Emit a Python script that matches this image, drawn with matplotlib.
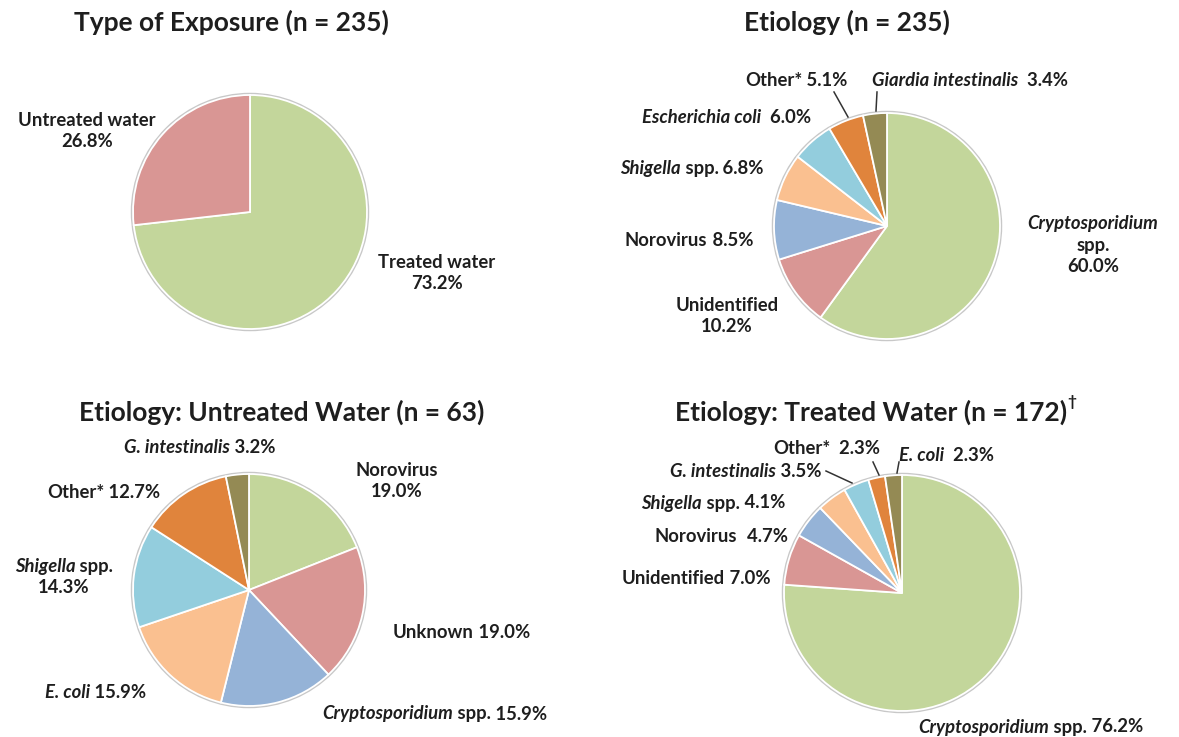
import matplotlib

matplotlib.use("Agg")
import matplotlib.pyplot as plt
from matplotlib.offsetbox import AnnotationBbox, HPacker, TextArea, VPacker
from matplotlib.patches import Circle

W, H = 1179, 737
FONT = "Lato"
INK = "#1e1e1e"
LABEL_SIZE = 13.3
COLORS = ["#c3d69b", "#d99694", "#95b3d7", "#fac090", "#93cddd", "#e0843c", "#948a54"]

# data (percent of outbreaks)
exposure_labels = ["Treated water", "Untreated water"]
exposure_pct = [73.2, 26.8]

etiology_labels = ["Cryptosporidium spp.", "Unidentified", "Norovirus", "Shigella spp.",
                   "Escherichia coli", "Other*", "Giardia intestinalis"]
etiology_pct = [60.0, 10.2, 8.5, 6.8, 6.0, 5.1, 3.4]

untreated_labels = ["Norovirus", "Unknown", "Cryptosporidium spp.", "E. coli",
                    "Shigella spp.", "Other*", "G. intestinalis"]
untreated_pct = [19.0, 19.0, 15.9, 15.9, 14.3, 12.7, 3.2]

treated_labels = ["Cryptosporidium spp.", "Unidentified", "Norovirus", "Shigella spp.",
                  "G. intestinalis", "Other*", "E. coli"]
treated_pct = [76.2, 7.0, 4.7, 4.1, 3.5, 2.3, 2.3]

ITALIC = {"Cryptosporidium", "Shigella", "Escherichia coli", "Giardia intestinalis",
          "G. intestinalis", "E. coli"}


def name_parts(name):
    if name in ITALIC:
        return [(name, True)]
    genus, _, rest = name.partition(" ")
    if genus in ITALIC:
        return [(genus, True), (" " + rest, False)]
    return [(name, False)]


def area(text, italic=False, size=LABEL_SIZE):
    return TextArea(text, textprops=dict(fontfamily=FONT, fontweight="bold", fontsize=size,
                                         fontstyle="italic" if italic else "normal",
                                         color=INK))


def line(parts, size=LABEL_SIZE):
    return HPacker(children=[area(t, it, size) for t, it in parts], align="baseline",
                   pad=0, sep=0)


def place(ax, lines, x, y, align="left"):
    if len(lines) == 1:
        box = lines[0]
    else:
        box = VPacker(children=lines, align="center", pad=0, sep=3)
    bx = {"left": 0, "center": 0.5, "right": 1}[align]
    ab = AnnotationBbox(box, (x, H - y), xycoords="data", box_alignment=(bx, 0.5),
                        frameon=False, pad=0, annotation_clip=False)
    ax.add_artist(ab)


def label(ax, names, pcts, i, x, y, mode, align="left", gap=" "):
    pct = f"{pcts[i]:.1f}%"
    parts = name_parts(names[i])
    if mode == "inline":
        place(ax, [line(parts + [(gap + pct, False)])], x, y, align)
    elif mode == "stack":
        place(ax, [line(parts), line([(pct, False)])], x, y, "center")
    else:  # genus / spp. / pct on three lines
        place(ax, [line([parts[0]]), line([(parts[1][0].strip(), False)]),
                   line([(pct, False)])], x, y, "center")


def pie(ax, values, cx, cy, r):
    ax.add_patch(Circle((cx, H - cy), r + 1.2, facecolor="none", edgecolor="#c8c8c8",
                        linewidth=1.5, zorder=0))
    ax.pie(values, colors=COLORS[:len(values)], startangle=90, counterclock=False,
           center=(cx, H - cy), radius=r,
           wedgeprops=dict(edgecolor="white", linewidth=1.3))


def leader(ax, x0, y0, x1, y1):
    ax.plot([x0, x1], [H - y0, H - y1], color="#333333", linewidth=1.1)


fig = plt.figure(figsize=(W / 100, H / 100), dpi=100, facecolor="white")
ax = fig.add_axes([0, 0, 1, 1])

pie(ax, exposure_pct, 250, 212, 117)
pie(ax, etiology_pct, 887, 226, 113)
pie(ax, untreated_pct, 249, 590, 116)
pie(ax, treated_pct, 902, 593, 118)

ax.set_xlim(0, W)
ax.set_ylim(0, H)
ax.set_aspect("equal")
ax.axis("off")

# titles
title_kw = dict(fontfamily=FONT, fontweight="bold", fontsize=19, color=INK,
                ha="center", va="center")
ax.text(231, H - 22, "Type of Exposure (n = 235)", **title_kw)
ax.text(847, H - 22, "Etiology (n = 235)", **title_kw)
ax.text(282, H - 412, "Etiology: Untreated Water (n = 63)", **title_kw)
t4 = ax.text(871, H - 412, "Etiology: Treated Water (n = 172)", **title_kw)
ax.annotate("\u2020", xy=(1, 0.62), xycoords=t4, ha="left", va="bottom",
            fontsize=11, fontweight="bold", color=INK, fontfamily=FONT)

# exposure labels
label(ax, exposure_labels, exposure_pct, 0, 437, 273, "stack")
label(ax, exposure_labels, exposure_pct, 1, 87, 131, "stack")

# etiology labels
label(ax, etiology_labels, etiology_pct, 0, 1093, 245, "stack3")
label(ax, etiology_labels, etiology_pct, 1, 727, 316, "stack")
label(ax, etiology_labels, etiology_pct, 2, 625, 240, "inline")
label(ax, etiology_labels, etiology_pct, 3, 620, 168, "inline")
label(ax, etiology_labels, etiology_pct, 4, 642, 117, "inline", gap="  ")
label(ax, etiology_labels, etiology_pct, 5, 745, 80, "inline")
label(ax, etiology_labels, etiology_pct, 6, 872, 80, "inline", gap="  ")
leader(ax, 834, 92, 848, 117)
leader(ax, 877, 92, 876, 111)

# untreated water labels
label(ax, untreated_labels, untreated_pct, 0, 397, 481, "stack")
label(ax, untreated_labels, untreated_pct, 1, 393, 632, "inline")
label(ax, untreated_labels, untreated_pct, 2, 322, 714, "inline")
label(ax, untreated_labels, untreated_pct, 3, 45, 693, "inline")
label(ax, untreated_labels, untreated_pct, 4, 64, 577, "stack")
label(ax, untreated_labels, untreated_pct, 5, 47, 492, "inline")
label(ax, untreated_labels, untreated_pct, 6, 124, 447, "inline")

# treated water labels
label(ax, treated_labels, treated_pct, 0, 918, 727, "inline")
label(ax, treated_labels, treated_pct, 1, 622, 579, "inline")
label(ax, treated_labels, treated_pct, 2, 655, 537, "inline", gap="  ")
label(ax, treated_labels, treated_pct, 3, 641, 503, "inline")
label(ax, treated_labels, treated_pct, 4, 670, 471, "inline")
label(ax, treated_labels, treated_pct, 5, 773, 448, "inline", gap="  ")
label(ax, treated_labels, treated_pct, 6, 899, 455, "inline", gap="  ")
leader(ax, 826, 471, 852, 483)
leader(ax, 873, 462, 879, 475)
leader(ax, 899, 462, 897, 473)

fig.savefig("out.png", dpi=100, facecolor="white")
